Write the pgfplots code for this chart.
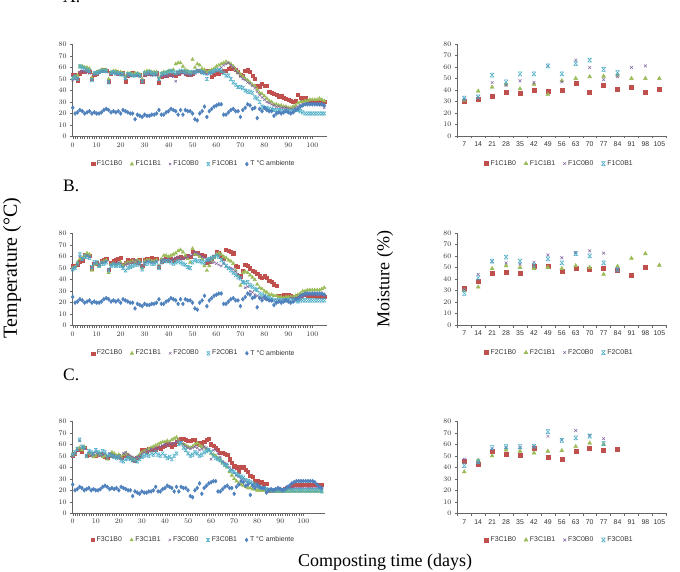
\documentclass[border=0pt]{standalone}
\usepackage{pgfplots}
\pgfplotsset{compat=1.18}
\usepackage{pgfplotstable}
\usepackage{fontspec}
\setmainfont{Liberation Serif}
\newfontfamily\arial{Liberation Sans}
\definecolor{cred}{HTML}{C0504D}
\definecolor{cgreen}{HTML}{9BBB59}
\definecolor{cpurple}{HTML}{8064A2}
\definecolor{ccyan}{HTML}{4BACC6}
\definecolor{cblue}{HTML}{4F81BD}
\pgfdeclareplotmark{xbar}{%
 \pgfpathmoveto{\pgfqpoint{-\pgfplotmarksize}{-\pgfplotmarksize}}%
 \pgfpathlineto{\pgfqpoint{\pgfplotmarksize}{\pgfplotmarksize}}%
 \pgfpathmoveto{\pgfqpoint{-\pgfplotmarksize}{\pgfplotmarksize}}%
 \pgfpathlineto{\pgfqpoint{\pgfplotmarksize}{-\pgfplotmarksize}}%
 \pgfpathmoveto{\pgfqpoint{-\pgfplotmarksize}{\pgfplotmarksize}}%
 \pgfpathlineto{\pgfqpoint{\pgfplotmarksize}{\pgfplotmarksize}}%
 \pgfpathmoveto{\pgfqpoint{-\pgfplotmarksize}{-\pgfplotmarksize}}%
 \pgfpathlineto{\pgfqpoint{\pgfplotmarksize}{-\pgfplotmarksize}}%
 \pgfusepathqstroke}

\pgfplotstableread{
d a
0 25
1 20
2 21
3 23
4 22
5 20
6 21
7 22
8 20
9 21
10 20
11 20
12 21
13 23
14 24
15 23
16 21
17 22
18 21
19 22
20 20
21 23
22 22
23 21
24 20
25 20
26 15
27 19
28 18
29 17
30 19
31 18
32 18
33 19
34 19
35 20
36 23
37 19
38 19
39 21
40 22
41 24
42 23
43 22
44 19
45 23
46 19
47 23
48 22
49 22
50 20
51 15
52 14
53 20
54 22
55 26
56 17
57 22
58 24
59 26
60 27
61 28
62 28
63 19
64 19
65 21
66 23
67 24
68 22
69 22
70 17
71 23
72 25
73 28
74 27
75 24
76 25
77 16
78 24
79 22
80 25
81 23
82 22
83 22
84 18
85 20
86 21
87 20
88 21
89 22
90 21
91 20
92 21
93 23
94 24
95 26
96 27
97 28
98 28
99 28
100 28
101 28
102 28
103 28
104 28
105 27
106 25
107 23
108 22
}\amb

\pgfplotstableread{
d r g p c
0 54 50 49 51
1 54 52 50 52
2 49 53 51 50
3 55 61 56 61
4 56 61 57 60
5 56 60 56 59
6 57 60 56 58
7 56 59 55 57
8 50 51 49 49
9 54 55 54 55
10 55 56 55 55
11 56 57 56 56
12 57 58 57 57
13 58 58 57 57
14 57 58 56 57
15 48 50 48 47
16 55 56 55 55
17 56 57 55 56
18 56 57 54 55
19 55 56 54 55
20 55 56 55 54
21 55 55 54 54
22 48 52 50 51
23 53 55 54 54
24 54 55 53 54
25 55 54 53 53
26 54 55 53 53
27 54 55 53 54
28 54 54 52 53
29 48 50 49 48
30 54 56 53 55
31 55 57 54 55
32 55 57 54 56
33 55 56 53 55
34 55 56 54 54
35 55 56 53 55
36 47 51 49 50
37 52 55 52 54
38 53 56 53 55
39 53 56 52 55
40 54 57 53 56
41 54 57 53 57
42 54 58 52 56
43 53 63 48 55
44 55 64 54 56
45 56 64 55 57
46 56 61 55 57
47 55 58 54 56
48 54 57 54 56
49 54 56 53 55
50 55 67 54 56
51 56 60 55 56
52 57 63 56 57
53 57 62 56 57
54 56 59 55 56
55 56 58 55 55
56 57 56 54 50
57 57 57 55 55
58 52 58 55 56
59 54 59 56 57
60 55 61 57 58
61 55 62 58 58
62 56 63 60 57
63 57 64 62 55
64 57 65 63 53
65 59 64 64 53
66 60 63 62 50
67 59 61 60 47
68 58 58 57 45
69 56 56 55 43
70 54 54 52 43
71 53 52 50 42
72 57 50 49 40
73 58 49 47 39
74 56 47 46 39
75 53 45 44 38
76 50 44 42 34
77 44 41 39 33
78 43 38 36 30
79 46 37 34 26
80 44 35 32 25
81 44 33 30 25
82 39 31 29 24
83 38 30 28 24
84 37 28 27 23
85 36 28 26 23
86 35 27 26 23
87 35 27 25 22
88 34 26 25 22
89 33 26 25 22
90 32 25 24 22
91 31 25 24 22
92 30 26 24 22
93 31 27 25 23
94 36 29 26 23
95 34 30 27 22
96 33 30 28 21
97 34 31 28 20
98 31 31 29 20
99 31 32 29 20
100 31 32 29 20
101 30 32 29 20
102 30 32 28 20
103 30 33 28 20
104 30 32 27 20
105 30 31 25 20
}\tA

\pgfplotstableread{
d r g p c
0 52 50 50 49
1 52 51 51 50
2 53 55 54 54
3 56 58 60 62
4 57 59 58 58
5 62 61 60 60
6 62 63 61 60
7 61 62 60 59
8 50 48 50 51
9 54 53 54 55
10 55 54 55 55
11 53 52 53 52
12 56 55 55 54
13 57 56 55 54
14 58 57 56 55
15 49 46 49 48
16 55 53 53 52
17 56 54 54 53
18 57 53 54 52
19 58 54 55 53
20 59 55 54 52
21 53 52 51 50
22 55 54 53 48
23 57 55 54 50
24 56 55 54 51
25 57 56 55 52
26 56 56 57 53
27 55 57 56 53
28 57 56 55 54
29 52 50 51 49
30 57 56 55 54
31 58 57 56 54
32 58 57 56 55
33 59 56 55 54
34 58 56 55 54
35 58 57 56 55
36 51 52 52 50
37 56 58 57 55
38 57 61 58 56
39 58 61 57 56
40 57 60 58 56
41 58 61 57 55
42 57 62 58 54
43 58 63 59 55
44 59 65 60 56
45 60 66 59 55
46 59 64 58 54
47 60 61 59 53
48 61 58 60 51
49 60 55 61 50
50 64 67 62 55
51 63 62 64 57
52 63 62 63 56
53 62 60 62 56
54 62 58 60 55
55 61 52 59 55
56 55 48 57 57
57 56 52 56 58
58 58 56 55 59
59 60 59 55 60
60 64 62 54 61
61 63 63 53 60
62 60 62 52 57
63 58 60 54 55
64 66 59 52 52
65 65 57 50 50
66 64 56 50 48
67 63 54 49 46
68 52 48 47 44
69 51 44 45 42
70 43 35 42 41
71 48 46 38 38
72 53 47 33 37
73 52 46 34 38
74 50 44 30 35
75 48 42 29 34
76 47 40 27 32
77 45 36 26 31
78 43 33 25 28
79 42 32 24 27
80 43 30 23 26
81 42 29 23 25
82 39 27 22 24
83 38 27 22 23
84 36 26 22 22
85 35 26 22 22
86 26 25 22 22
87 26 25 22 22
88 27 24 22 22
89 27 25 23 22
90 27 25 23 22
91 26 25 24 22
92 25 25 24 22
93 25 26 23 22
94 26 27 22 21
95 26 28 23 22
96 27 30 24 22
97 27 30 26 22
98 26 31 27 22
99 26 31 27 22
100 26 31 27 22
101 26 31 27 22
102 25 31 27 22
103 25 31 27 22
104 25 32 27 22
105 25 33 26 22
}\tB

\pgfplotstableread{
d r g p c
0 50 51 50 51
1 52 52 52 53
2 55 56 55 56
3 55 57 63 64
4 54 55 58 58
5 57 58 57 57
6 50 49 50 50
7 51 52 53 54
8 52 51 50 53
9 50 49 51 52
10 50 50 53 55
11 51 52 52 53
12 52 51 50 52
13 50 49 51 54
14 49 50 52 53
15 48 47 48 50
16 50 51 52 51
17 51 53 51 50
18 50 52 50 49
19 49 50 49 48
20 50 51 50 49
21 48 49 48 46
22 50 51 52 45
23 51 52 53 47
24 50 51 51 48
25 48 49 50 47
26 47 48 49 46
27 46 47 48 46
28 48 49 49 45
29 50 51 50 47
30 55 53 52 49
31 55 54 53 50
32 54 55 55 51
33 56 56 54 50
34 55 57 56 52
35 56 58 55 51
36 55 59 57 53
37 57 60 56 51
38 56 61 58 50
39 58 62 59 52
40 59 62 60 50
41 60 63 59 48
42 60 62 61 49
43 58 64 60 47
44 60 65 61 50
45 62 66 62 52
46 64 63 63 60
47 65 61 62 61
48 65 60 60 57
49 64 59 58 55
50 63 58 57 52
51 63 57 56 50
52 64 58 57 51
53 64 60 58 53
54 61 61 57 52
55 60 59 55 50
56 61 58 56 51
57 62 57 58 53
58 64 56 57 54
59 65 55 55 55
60 60 52 47 53
61 59 51 55 50
62 57 50 55 48
63 55 48 52 47
64 53 46 49 46
65 53 44 45 44
66 52 42 44 42
67 51 40 43 41
68 47 36 40 38
69 44 33 38 37
70 41 30 35 36
71 40 28 33 34
72 36 26 32 33
73 40 25 31 32
74 40 24 30 31
75 38 23 28 29
76 36 22 27 28
77 33 22 26 27
78 32 21 25 26
79 28 21 24 25
80 28 20 23 24
81 27 20 22 23
82 27 20 22 22
83 26 20 21 22
84 26 20 21 21
85 20 20 21 20
86 20 20 21 20
87 20 19 21 20
88 20 19 21 20
89 20 19 22 20
90 20 19 22 20
91 20 19 21 20
92 21 19 21 20
93 22 19 22 20
94 22 19 22 20
95 24 19 22 20
96 25 19 22 20
97 25 19 22 20
98 25 19 22 20
99 25 19 22 20
100 25 19 22 20
101 25 19 22 20
102 25 19 22 20
103 25 19 22 20
104 25 19 22 20
105 25 19 22 20
106 25 19 22 20
107 25 19 22 20
108 25 19 21 19
}\tC

\pgfplotsset{
 base/.style={
  scale only axis, height=92pt, ymin=0, ymax=80, ytick={0,10,...,80},
  axis x line*=bottom, axis y line*=left,
  axis line style={black!60, line width=0.6pt},
  tick style={black!60, line width=0.4pt},
  tick align=outside, major tick length=2.5pt, minor tick length=2.5pt,
  ticklabel style={font=\arial\fontsize{6.9}{8}\selectfont, text=black!80},
  legend style={draw=none, fill=none, font=\arial\fontsize{6.9}{8}\selectfont, text=black!80,
    legend columns=-1, /tikz/every even column/.append style={column sep=6pt},
    inner sep=0pt},
  legend image code/.code={\draw[#1] plot coordinates {(0pt,0pt)};},
 },
 temp/.style={base, width=254pt, xmin=0, xmax=106, xtick={0,10,...,100}, minor x tick num=9,
  legend style={at={(0.478,-0.30)}, anchor=center}},
 moist/.style={base, width=209pt, xmin=0.5, xmax=15.5, xtick={1,...,15},
  xticklabels={7,14,21,28,35,42,49,56,63,70,77,84,91,98,105},
  minor xtick={0.5,1.5,...,15.5}, major x tick style={draw=none},
  legend style={at={(0.49,-0.30)}, anchor=center}},
 sR/.style={only marks, mark=square*, mark size=#1, color=cred},
 sG/.style={only marks, mark=triangle*, mark size=#1, color=cgreen},
 sP/.style={only marks, mark=x, mark size=#1, color=cpurple, mark options={line width=0.5pt}},
 sC/.style={only marks, mark=xbar, mark size=#1, color=ccyan, mark options={line width=0.5pt}},
 sA/.style={only marks, mark=diamond*, mark size=#1, color=cblue},
}

\begin{document}
\begin{tikzpicture}
\useasboundingbox (0pt,0pt) rectangle (680pt,571pt);

% ---------- A temperature
\begin{axis}[temp, at={(72.7pt,434.5pt)}, anchor=south west]
\addplot[sR=1.6pt] table[x=d,y=r]{\tA}; \addlegendentry{F1C1B0}
\addplot[sG=2.0pt] table[x=d,y=g]{\tA}; \addlegendentry{F1C1B1}
\addplot[sP=1.7pt] table[x=d,y=p]{\tA}; \addlegendentry{F1C0B0}
\addplot[sC=1.7pt] table[x=d,y=c]{\tA}; \addlegendentry{F1C0B1}
\addplot[sA=2.0pt, restrict x to domain=0:105] table[x=d,y=a]{\amb}; \addlegendentry{T °C ambiente}
\end{axis}

% ---------- A moisture
\begin{axis}[moist, at={(457.3pt,435pt)}, anchor=south west]
\addplot[sR=2.0pt] coordinates {(1,30)(2,32)(3,35)(4,38.5)(5,37)(6,40)(7,39)(8,39.5)(9,45.5)(10,38)(11,44)(12,41)(13,42.5)(14,38)(15,41)}; \addlegendentry{F1C1B0}
\addplot[sG=2.3pt] coordinates {(1,31)(2,39)(3,42.5)(4,45)(5,41)(6,45)(7,36)(8,48)(9,50)(10,51.5)(11,52)(12,53)(13,50)(14,50)(15,50)}; \addlegendentry{F1C1B1}
\addplot[sP=2.0pt] coordinates {(1,32)(2,34)(3,46.5)(4,44)(5,48)(6,46.5)(7,61)(8,47)(9,66)(10,59.5)(11,49)(12,51.5)(13,59.5)(14,61)}; \addlegendentry{F1C0B0}
\addplot[sC=2.0pt] coordinates {(1,33)(2,34)(3,53)(4,47)(5,54)(6,54)(7,61)(8,54)(9,63)(10,66)(11,58)(12,55)}; \addlegendentry{F1C0B1}
\end{axis}

% ---------- B temperature
\begin{axis}[temp, at={(72.7pt,245.3pt)}, anchor=south west]
\addplot[sR=1.6pt] table[x=d,y=r]{\tB}; \addlegendentry{F2C1B0}
\addplot[sG=2.0pt] table[x=d,y=g]{\tB}; \addlegendentry{F2C1B1}
\addplot[sP=1.7pt] table[x=d,y=p]{\tB}; \addlegendentry{F2C0B0}
\addplot[sC=1.7pt] table[x=d,y=c]{\tB}; \addlegendentry{F2C0B1}
\addplot[sA=2.0pt, restrict x to domain=0:105] table[x=d,y=a]{\amb}; \addlegendentry{T °C ambiente}
\end{axis}

% ---------- B moisture
\begin{axis}[moist, at={(457.3pt,246pt)}, anchor=south west]
\addplot[sR=2.0pt] coordinates {(1,32)(2,38)(3,45)(4,45.5)(5,45)(6,51.5)(7,51)(8,47)(9,49)(10,48.5)(11,49.5)(12,47.5)(13,43)(14,50)}; \addlegendentry{F2C1B0}
\addplot[sG=2.3pt] coordinates {(1,30)(2,33)(3,49)(4,51.5)(5,50)(6,49)(7,50)(8,49)(9,51.5)(10,50)(11,44)(12,51)(13,58)(14,62)(15,52)}; \addlegendentry{F2C1B1}
\addplot[sP=2.0pt] coordinates {(1,31)(2,44)(3,55)(4,54)(5,53)(6,54.5)(7,61)(8,58.5)(9,63)(10,64.5)(11,62.5)(12,49)}; \addlegendentry{F2C0B0}
\addplot[sC=2.0pt] coordinates {(1,27.5)(2,41)(3,55.5)(4,59)(5,55.5)(6,52)(7,57.5)(8,54)(9,62)(10,60)(11,54)(12,48)}; \addlegendentry{F2C0B1}
\end{axis}

% ---------- C temperature
\begin{axis}[temp, width=252.3pt, xmax=109.4, at={(72.7pt,57.7pt)}, anchor=south west, legend style={at={(0.48,-0.29)}}]
\addplot[sR=1.6pt] table[x=d,y=r]{\tC}; \addlegendentry{F3C1B0}
\addplot[sG=2.0pt] table[x=d,y=g]{\tC}; \addlegendentry{F3C1B1}
\addplot[sP=1.7pt] table[x=d,y=p]{\tC}; \addlegendentry{F3C0B0}
\addplot[sC=1.7pt] table[x=d,y=c]{\tC}; \addlegendentry{F3C0B1}
\addplot[sA=2.0pt] table[x=d,y=a]{\amb}; \addlegendentry{T °C ambiente}
\end{axis}

% ---------- C moisture
\begin{axis}[moist, at={(457.3pt,57.7pt)}, anchor=south west, legend style={at={(0.49,-0.29)}}]
\addplot[sR=2.0pt] coordinates {(1,45)(2,43)(3,54)(4,51.5)(5,50.5)(6,57)(7,49)(8,47)(9,54)(10,57)(11,55)(12,56)}; \addlegendentry{F3C1B0}
\addplot[sG=2.3pt] coordinates {(1,36)(2,46)(3,50)(4,55)(5,54)(6,52.5)(7,54)(8,54.5)(9,58)(10,61)(11,60)}; \addlegendentry{F3C1B1}
\addplot[sP=2.0pt] coordinates {(1,47)(2,44)(3,56)(4,57)(5,57)(6,58)(7,67)(8,64)(9,72)(10,68)(11,65)}; \addlegendentry{F3C0B0}
\addplot[sC=2.0pt] coordinates {(1,41.5)(2,45)(3,57)(4,58)(5,58)(6,58.5)(7,71)(8,63.5)(9,65.5)(10,67)(11,60.5)}; \addlegendentry{F3C0B1}
\end{axis}

% ---------- labels
\node[anchor=base west, font=\fontsize{17.5}{20}\selectfont, inner sep=0pt] at (63pt,568pt) {A.};
\node[anchor=base west, font=\fontsize{17.5}{20}\selectfont, inner sep=0pt] at (63pt,379.3pt) {B.};
\node[anchor=base west, font=\fontsize{17.5}{20}\selectfont, inner sep=0pt] at (63pt,190.3pt) {C.};
\node[rotate=90, font=\fontsize{20}{23}\selectfont, inner sep=0pt] at (12pt,303pt) {Temperature (°C)};
\node[rotate=90, font=\fontsize{18}{21}\selectfont, inner sep=0pt] at (385pt,292pt) {Moisture (\%)};
\node[anchor=base, font=\fontsize{18}{21}\selectfont, inner sep=0pt] at (385pt,5pt) {Composting time (days)};
\end{tikzpicture}
\end{document}
